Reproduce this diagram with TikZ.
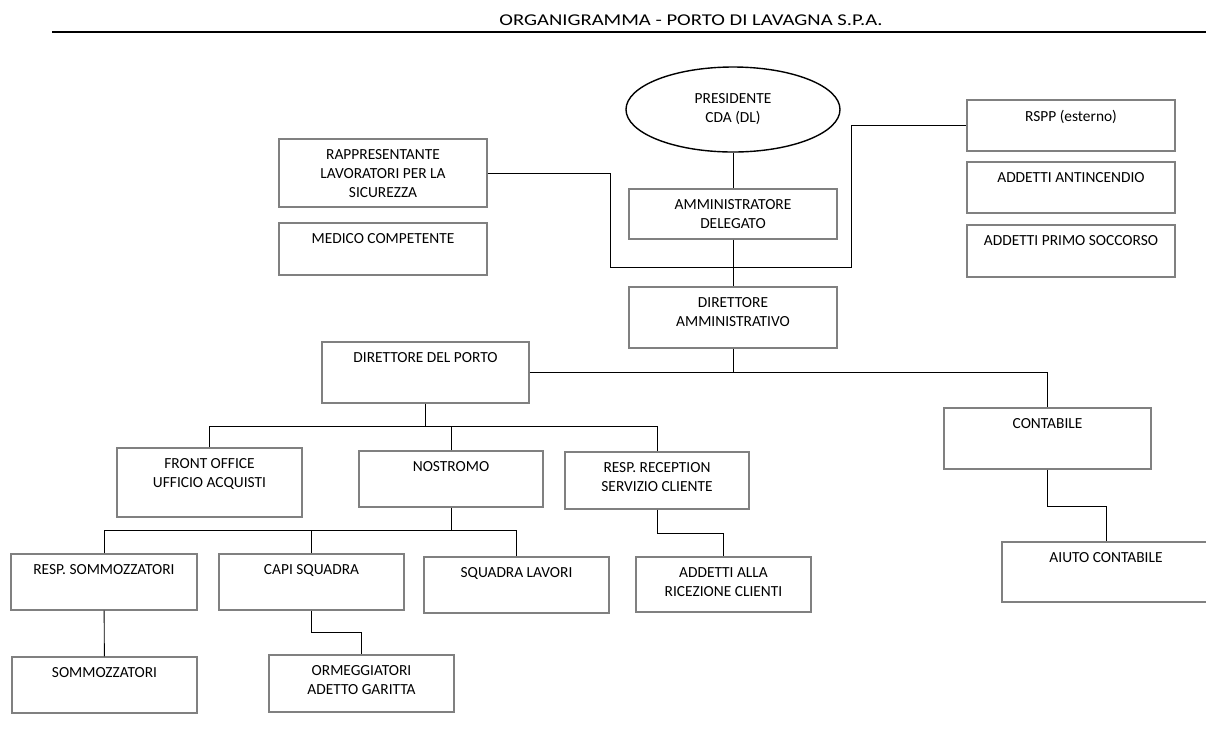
\documentclass[tikz,border=0pt]{standalone}
\usepackage{fontspec}
\setmainfont{Carlito}
\usetikzlibrary{shapes.geometric}
\definecolor{boxgray}{RGB}{128,128,128}

\begin{document}
\begin{tikzpicture}[x=1pt,y=-1pt,
    box/.style={draw=boxgray,line width=1.3pt,rectangle,inner sep=0pt},
    txt/.style={anchor=north,align=center,inner sep=0pt,yshift=-11pt,
      font=\fontsize{15.4}{18.8}\selectfont},
    link/.style={draw=black,line width=0.9pt}]
  \clip (0,0) rectangle (1206,740);
  \fill[white] (0,0) rectangle (1206,740);

  % intestazione
  \node[font=\fontsize{16.5}{20}\selectfont,inner sep=0pt] (title) at (691,20) {\scalebox{1.25}[1]{ORGANIGRAMMA - PORTO DI LAVAGNA S.P.A.}};
  \coordinate (rulea) at (52,32);
  \coordinate (ruleb) at (1206,32);
  \draw[line width=2.6pt] (rulea) -- (ruleb);

  % vertice
  \node[draw,ellipse,line width=1.4pt,minimum width=214pt,minimum height=85pt,inner sep=0pt,
    label={[txt,yshift=-16pt]90:PRESIDENTE\\CDA (DL)}] (pres) at (733,109.5) {};
  \node[box,minimum width=208pt,minimum height=50pt,label={[txt]90:AMMINISTRATORE\\DELEGATO}] (ad) at (733,214) {};
  \node[box,minimum width=208pt,minimum height=61pt,label={[txt]90:DIRETTORE\\AMMINISTRATIVO}] (da) at (733,317.5) {};

  % sicurezza
  \node[box,minimum width=208pt,minimum height=68pt,label={[txt]90:RAPPRESENTANTE\\LAVORATORI PER LA\\SICUREZZA}] (rls) at (383,173) {};
  \node[box,minimum width=208pt,minimum height=52pt,label={[txt]90:MEDICO COMPETENTE}] (medico) at (383,249) {};
  \node[box,minimum width=208pt,minimum height=51pt,label={[txt]90:RSPP (esterno)}] (rspp) at (1071,125.5) {};
  \node[box,minimum width=208pt,minimum height=51pt,label={[txt]90:ADDETTI ANTINCENDIO}] (antinc) at (1071,187.5) {};
  \node[box,minimum width=208pt,minimum height=52pt,label={[txt]90:ADDETTI PRIMO SOCCORSO}] (soccorso) at (1071,251) {};

  % porto e contabilita
  \node[box,minimum width=207pt,minimum height=61pt,label={[txt]90:DIRETTORE DEL PORTO}] (porto) at (425.5,372.5) {};
  \node[box,minimum width=207pt,minimum height=61pt,label={[txt]90:CONTABILE}] (contabile) at (1047.5,438.5) {};
  \node[box,minimum width=208pt,minimum height=60pt,label={[txt]90:AIUTO CONTABILE}] (aiuto) at (1106,572) {};

  % secondo livello
  \node[box,minimum width=185pt,minimum height=69pt,label={[txt]90:FRONT OFFICE\\UFFICIO ACQUISTI}] (front) at (209.5,482.5) {};
  \node[box,minimum width=184pt,minimum height=56pt,label={[txt]90:NOSTROMO}] (nostromo) at (451,479) {};
  \node[box,minimum width=184pt,minimum height=57pt,label={[txt]90:RESP. RECEPTION\\SERVIZIO CLIENTE}] (reception) at (657,480.5) {};

  % squadre
  \node[box,minimum width=186pt,minimum height=56pt,label={[txt]90:RESP. SOMMOZZATORI}] (respsomm) at (104,582) {};
  \node[box,minimum width=185pt,minimum height=56pt,label={[txt]90:CAPI SQUADRA}] (capi) at (311.5,582) {};
  \node[box,minimum width=185pt,minimum height=56pt,label={[txt]90:SQUADRA LAVORI}] (lavori) at (516.5,585) {};
  \node[box,minimum width=175pt,minimum height=55pt,label={[txt]90:ADDETTI ALLA\\RICEZIONE CLIENTI}] (ricezione) at (723.5,584.5) {};
  \node[box,minimum width=185pt,minimum height=56pt,label={[txt]90:SOMMOZZATORI}] (somm) at (104.5,685) {};
  \node[box,minimum width=185pt,minimum height=57pt,label={[txt]90:ORMEGGIATORI\\ADETTO GARITTA}] (orm) at (361.5,683.5) {};

  % collegamenti
  \coordinate (k1) at (610,267);
  \coordinate (k2) at (851,267);
  \coordinate (bus1) at (425.5,426);
  \coordinate (bus2) at (451,530);
  \draw[link] (pres) -- (ad);
  \draw[link] (ad) -- (da);
  \draw[link] (rls.east) -| (k1) -- (k2) |- (rspp.west);
  \draw[link] (da.south) -- (da.south |- porto.east);
  \draw[link] (porto.east) -- (contabile.north |- porto.east) -- (contabile.north);
  \draw[link] (porto.south) -- (bus1);
  \draw[link] (front.north) -- (front.north |- bus1) -- (reception.north |- bus1) -- (reception.north);
  \draw[link] (nostromo.north) -- (nostromo.north |- bus1);
  \draw[link] (nostromo.south) -- (bus2);
  \draw[link] (respsomm.north) -- (respsomm.north |- bus2) -- (lavori.north |- bus2) -- (lavori.north);
  \draw[link] (capi.north) -- (capi.north |- bus2);
  \draw[link] (respsomm) -- (somm);
  \draw[link] (capi.south) -- ++(0,22) -| (orm.north);
  \draw[link] (reception.south) -- ++(0,24) -| (ricezione.north);
  \draw[link] (contabile.south) -- ++(0,37) -| (aiuto.north);
\end{tikzpicture}
\end{document}
